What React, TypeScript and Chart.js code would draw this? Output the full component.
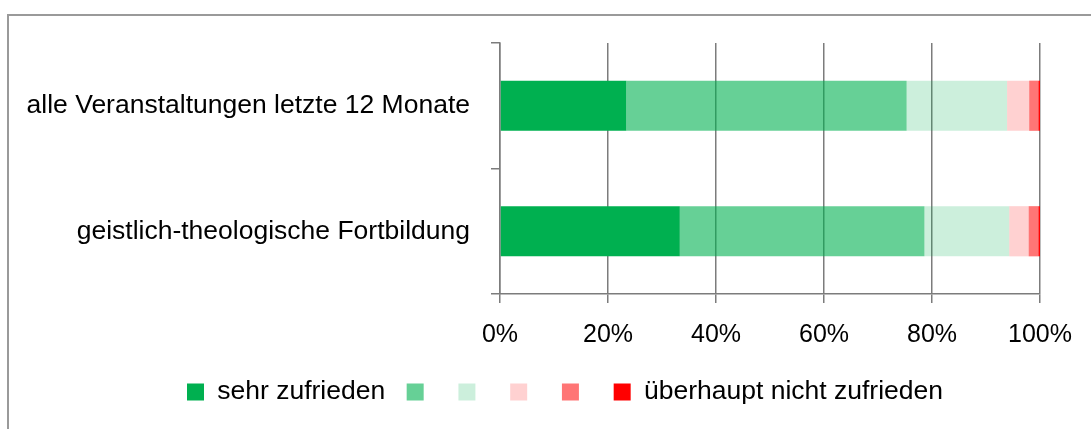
import React, { useEffect, useRef } from "react";
import { Chart, registerables } from "chart.js";

Chart.register(...registerables);

const categories = [
  "alle Veranstaltungen letzte 12 Monate",
  "geistlich-theologische Fortbildung",
];
const seriesLabels = ["sehr zufrieden", "", "", "", "", "überhaupt nicht zufrieden"];
const sehrZufrieden = [23.4, 33.3];
const stufe2 = [51.9, 45.3];
const stufe3 = [18.6, 15.7];
const stufe4 = [4.1, 3.6];
const stufe5 = [1.7, 1.8];
const nichtZufrieden = [0.3, 0.3];
const xTickValues = [0, 20, 40, 60, 80, 100];

const seriesValues = [sehrZufrieden, stufe2, stufe3, stufe4, stufe5, nichtZufrieden];
const seriesColors = [
  "rgb(0,176,80)",
  "rgba(0,176,80,0.6)",
  "rgba(0,176,80,0.2)",
  "rgba(255,0,0,0.18)",
  "rgba(255,0,0,0.54)",
  "rgb(255,0,0)",
];

const FONT = "'Liberation Sans', Arial, sans-serif";
const GRID = "#7c7c7c";

const legendShift = {
  id: "legendShift",
  afterLayout(chart: any) {
    if (chart.legend) {
      chart.legend.left = 187 - 21.5;
    }
  },
};

export default function App() {
  const ref = useRef<HTMLCanvasElement | null>(null);

  useEffect(() => {
    if (!ref.current) return;
    const chart = new Chart(ref.current, {
      type: "bar",
      data: {
        labels: categories,
        datasets: seriesValues.map((vals, i) => ({
          label: seriesLabels[i],
          data: vals,
          backgroundColor: seriesColors[i],
          borderWidth: 0,
          barPercentage: 0.4,
          categoryPercentage: 1.0,
        })),
      },
      plugins: [legendShift],
      options: {
        indexAxis: "y",
        responsive: false,
        animation: false,
        devicePixelRatio: 1,
        layout: { padding: { left: 0, right: 51, top: 43, bottom: 13.75 } },
        plugins: {
          tooltip: { enabled: false },
          legend: {
            position: "bottom",
            align: "start",
            labels: {
              boxWidth: 17,
              boxHeight: 17,
              padding: 21.5,
              color: "#000",
              font: { family: FONT, size: 26.5 },
            },
          },
        },
        scales: {
          x: {
            stacked: true,
            min: 0,
            max: 100,
            afterBuildTicks: (scale: any) => {
              scale.ticks = xTickValues.map((v) => ({ value: v }));
            },
            afterFit: (scale: any) => {
              scale.height = 63.25;
            },
            ticks: {
              color: "#000",
              font: { family: FONT, size: 25 },
              padding: 17,
              maxRotation: 0,
              callback: (v: any) => v + "%",
            },
            grid: {
              color: GRID,
              lineWidth: 1.5,
              tickLength: 9,
              drawTicks: true,
            },
            border: { display: true, color: GRID, width: 1.5 },
          },
          y: {
            stacked: true,
            afterFit: (scale: any) => {
              scale.width = 500;
            },
            ticks: {
              color: "#000",
              font: { family: FONT, size: 26.5 },
              padding: 21,
            },
            grid: {
              offset: true,
              drawOnChartArea: false,
              color: GRID,
              lineWidth: 1.5,
              tickLength: 9,
            },
            border: { display: true, color: GRID, width: 1.5 },
          },
        },
      },
    });
    return () => chart.destroy();
  }, []);

  return (
    <div
      style={{
        position: "fixed",
        left: 0,
        top: 0,
        width: 1091,
        height: 429,
        overflow: "hidden",
        background: "#fff",
      }}
    >
      <div
        style={{
          position: "absolute",
          left: 7,
          top: 14,
          width: 1300,
          height: 600,
          borderTop: "2px solid #9a9a9a",
          borderLeft: "2px solid #9a9a9a",
        }}
      />
      <canvas
        ref={ref}
        width={1091}
        height={429}
        style={{ position: "absolute", left: 0, top: 0, width: 1091, height: 429 }}
      />
    </div>
  );
}
